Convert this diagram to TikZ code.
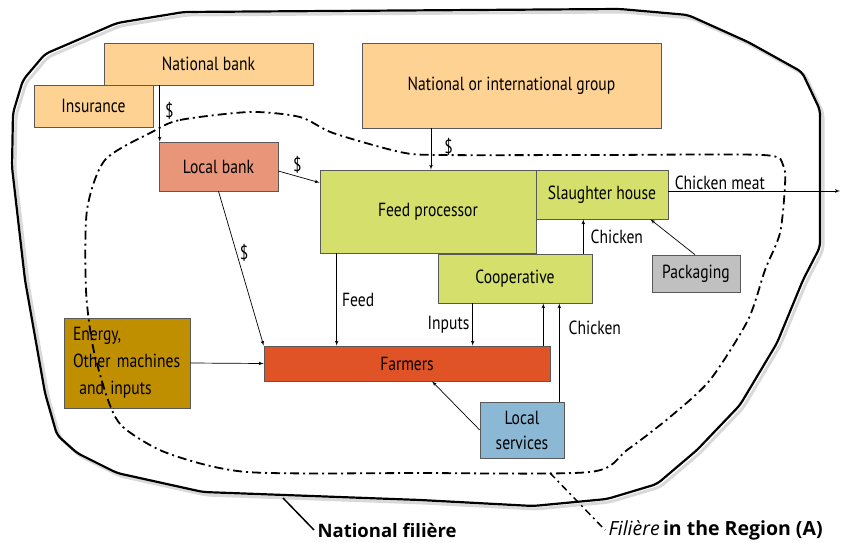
\documentclass[tikz,border=0pt]{standalone}
\usepackage{fontspec}
\setmainfont{PT Sans}[FakeStretch=0.82]
\newfontfamily\tagfont{Open Sans}
\usepackage{tikz}
\usetikzlibrary{arrows,shapes,positioning,calc}
\definecolor{bankorange}{RGB}{253,210,146}
\definecolor{localbank}{RGB}{232,149,122}
\definecolor{feedgreen}{RGB}{212,224,107}
\definecolor{packgray}{RGB}{192,192,192}
\definecolor{farmred}{RGB}{224,83,39}
\definecolor{energygold}{RGB}{191,143,0}
\definecolor{servblue}{RGB}{139,185,213}
\tikzset{
    actor/.style={
        rectangle,
        draw=gray!70!black,
        line width=0.6pt,
        inner sep=0pt,
        font=\fontsize{19}{22}\selectfont,
    },
    bank/.style={
        actor,
        fill=bankorange,
    },
    chain/.style={
        actor,
        fill=feedgreen,
    },
    flowlabel/.style={
        font=\fontsize{19}{22}\selectfont,
        inner sep=1pt,
    },
    national/.style={
        draw=black,
        line width=2.2pt,
        rounded corners=5pt,
    },
    regional/.style={
        draw=black,
        line width=1.8pt,
        dash pattern=on 9pt off 4pt on 2pt off 4pt,
    },
    haze/.style={
        draw=gray!30,
        line width=3pt,
    },
    every edge/.style={
        draw,
        ->,>=latex',
        line width=0.7pt,
    },
}

\begin{document}
\begin{tikzpicture}[x=1pt,y=-1pt]
    \useasboundingbox (0,0) rectangle (841,543);

    % Boundary of the national filiere
    \draw[haze, rounded corners=5pt, shift={(3,3)}] (184,12) -- (620,9) -- (688,15) -- (748,42) -- (802,72) -- (820,110) -- (820,247) -- (803,280) -- (777,343) -- (740,405) -- (697,450) -- (657,484) -- (607,499) -- (533,506) -- (420,500) -- (203,492) -- (117,473) -- (77,453) -- (57,435) -- (45,393) -- (25,280) -- (12,167) -- (13,113) -- (23,80) -- (45,54) -- (117,23) -- cycle;
    \draw[national] (184,12) -- (620,9) -- (688,15) -- (748,42) -- (802,72) -- (820,110) -- (820,247) -- (803,280) -- (777,343) -- (740,405) -- (697,450) -- (657,484) -- (607,499) -- (533,506) -- (420,500) -- (203,492) -- (117,473) -- (77,453) -- (57,435) -- (45,393) -- (25,280) -- (12,167) -- (13,113) -- (23,80) -- (45,54) -- (117,23) -- cycle;

    % Nodes and position definitions
    \node [bank, minimum width=209, minimum height=42] (nbank) at (208.5,64) {National bank};
    \node [bank, minimum width=119, minimum height=42] (insur) at (93.5,106) {Insurance};
    \node [bank, minimum width=299, minimum height=85] (group) at (511.5,85.5) {National or international group};
    \node [actor, fill=localbank, minimum width=119, minimum height=49] (lbank) at (218.5,166.5) {Local bank};
    \node [chain, minimum width=216, minimum height=83] (feed) at (428,211.5) {Feed processor};
    \node [chain, minimum width=132, minimum height=49] (slaughter) at (602,194.5) {Slaughter house};
    \node [chain, minimum width=154, minimum height=49] (coop) at (515,278.5) {Cooperative};
    \node [actor, fill=packgray, minimum width=88, minimum height=37] (pack) at (696,273.5) {Packaging};
    \node [actor, fill=farmred, minimum width=286, minimum height=35] (farmers) at (407,363.5) {Farmers};
    \node [actor, fill=energygold, minimum width=126, minimum height=90, text width=108, align=left,
           font=\fontsize{19}{27}\selectfont] (energy) at (127,363) {Energy,\\Other machines\\\ and inputs};
    \node [actor, fill=servblue, minimum width=84, minimum height=56, align=center,
           font=\fontsize{19}{25}\selectfont] (lserv) at (522,430) {Local\\services};
    \coordinate (market) at (840,191);

    % Boundary of the regional filiere
    \draw[regional] plot[smooth cycle, tension=0.45] coordinates {(152,132) (180,120) (250,112) (300,117) (333,133) (400,152) (440,155) (600,155) (763,155) (783,165) (785,185) (780,233) (765,270) (748,320) (710,380) (670,417) (627,450) (590,472) (420,473) (247,472) (167,453) (123,427) (108,400) (93,347) (86,290) (87,210) (105,160)};

    % Vertex definitions
    \path ([xshift=1pt]lbank.north west |- nbank.south) edge node[flowlabel, right=4pt, pos=0.45] (usd1) {\$} ([xshift=1pt]lbank.north west);
    \path ([xshift=3pt]feed.north |- group.south) edge node[flowlabel, right=12pt, pos=0.45] (usd2) {\$} ([xshift=3pt]feed.north);
    \path ([yshift=-4.5pt]lbank.east) edge node[flowlabel, above left=1pt and -8pt, pos=0.4] (usd3) {\$} ([yshift=-13pt]feed.north west);
    \path (lbank.south) edge node[flowlabel, right=2pt, pos=0.4] (usd4) {\$} (farmers.north west);
    \path ([xshift=17pt]feed.south west) edge node[flowlabel, right=4pt] (lfeed) {Feed} ([xshift=17pt]feed.south west |- farmers.north);
    \path ([xshift=-9pt]coop.north east) edge node[flowlabel, right=6pt] (lchick1) {Chicken} ([xshift=-9pt]coop.north east |- slaughter.south);
    \path ([xshift=-1pt]pack.north) edge ([xshift=-18pt]slaughter.south east);
    \path ([yshift=3.5pt]slaughter.east) edge node[flowlabel, above, pos=0.3] (lmeat) {Chicken meat} (market);
    \path ([xshift=35pt]coop.south west) edge node[flowlabel, left=2pt] (linputs) {Inputs} ([xshift=35pt]coop.south west |- farmers.north);
    \path ([xshift=-7pt]farmers.north east) edge ([xshift=-7pt]farmers.north east |- coop.south);
    \path ([xshift=-5pt]lserv.north east) edge node[flowlabel, right=8pt, pos=0.75] (lchick2) {Chicken} ([xshift=-5pt]lserv.north east |- coop.south);
    \path (lserv.west) edge ([xshift=25pt]farmers.south);
    \path (energy.east) edge (farmers.west);

    % Legend
    \node [font=\tagfont\fontsize{18.5}{21}\selectfont\bfseries, anchor=west] (tagnat) at (314,530) {National filière};
    \node [font=\tagfont\fontsize{19.5}{22}\selectfont, anchor=west] (tagreg) at (605,530) {\textit{Filière}\,\textbf{in the Region (A)}};
    \coordinate (natfoot) at (283,498);
    \coordinate (regfoot) at (550,473);
    \draw[line width=1.5pt] (natfoot) -- (tagnat.west);
    \draw[line width=1.5pt, dash pattern=on 7pt off 4pt on 2pt off 4pt] (regfoot) -- (tagreg.west);
\end{tikzpicture}
\end{document}
